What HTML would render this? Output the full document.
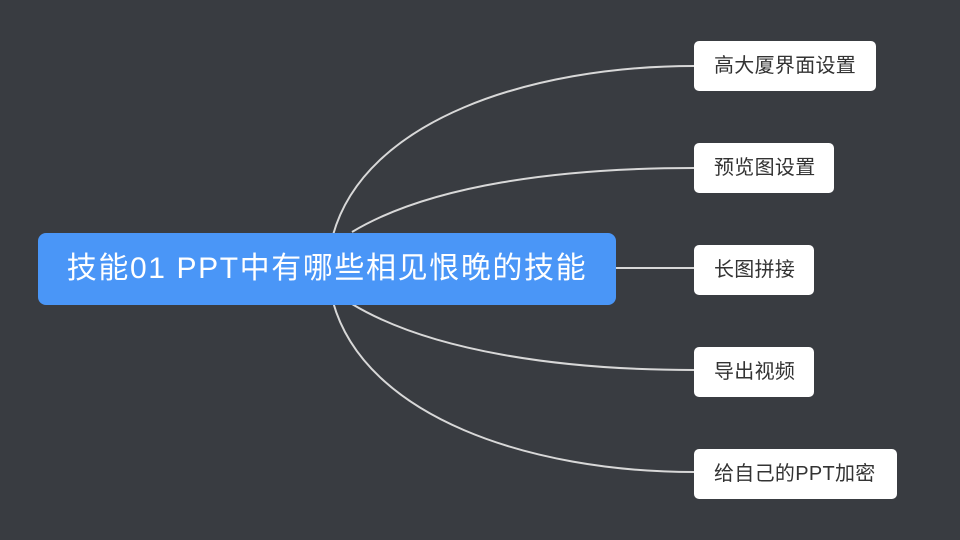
<!DOCTYPE html>
<html><head><meta charset="utf-8"><style>
html,body{margin:0;padding:0}
body{width:960px;height:540px;background:#393c41;position:relative;overflow:hidden;font-family:"Liberation Sans","Noto Sans CJK SC",sans-serif}
.main{position:absolute;left:38px;top:233px;width:578px;height:72px;background:#4a96f7;border-radius:8px;color:#fff;font-size:30px;line-height:72px;text-align:center;letter-spacing:1.6px}
.n{position:absolute;left:694px;height:50px;background:#fff;border-radius:5px;color:#333;font-size:20px;line-height:50px;box-sizing:border-box;padding-left:20px;letter-spacing:0.3px;white-space:nowrap}
svg{position:absolute;left:0;top:0}
</style></head><body>
<svg width="960" height="540"><g fill="none" stroke="#d8d8d8" stroke-width="2">
<path d="M333,235 C365,120 530,66 694,66"/>
<path d="M352,232 C430,185 560,168 694,168"/>
<path d="M616,268 L694,268"/>
<path d="M352,304 C430,351 560,370 694,370"/>
<path d="M333,302 C365,417 530,472 694,472"/>
</g></svg>
<div class="main">技能01 PPT中有哪些相见恨晚的技能</div>
<div class="n" style="top:41px;width:182px">高大厦界面设置</div>
<div class="n" style="top:143px;width:140px">预览图设置</div>
<div class="n" style="top:245px;width:120px">长图拼接</div>
<div class="n" style="top:347px;width:120px">导出视频</div>
<div class="n" style="top:449px;width:203px">给自己的PPT加密</div>
</body></html>
